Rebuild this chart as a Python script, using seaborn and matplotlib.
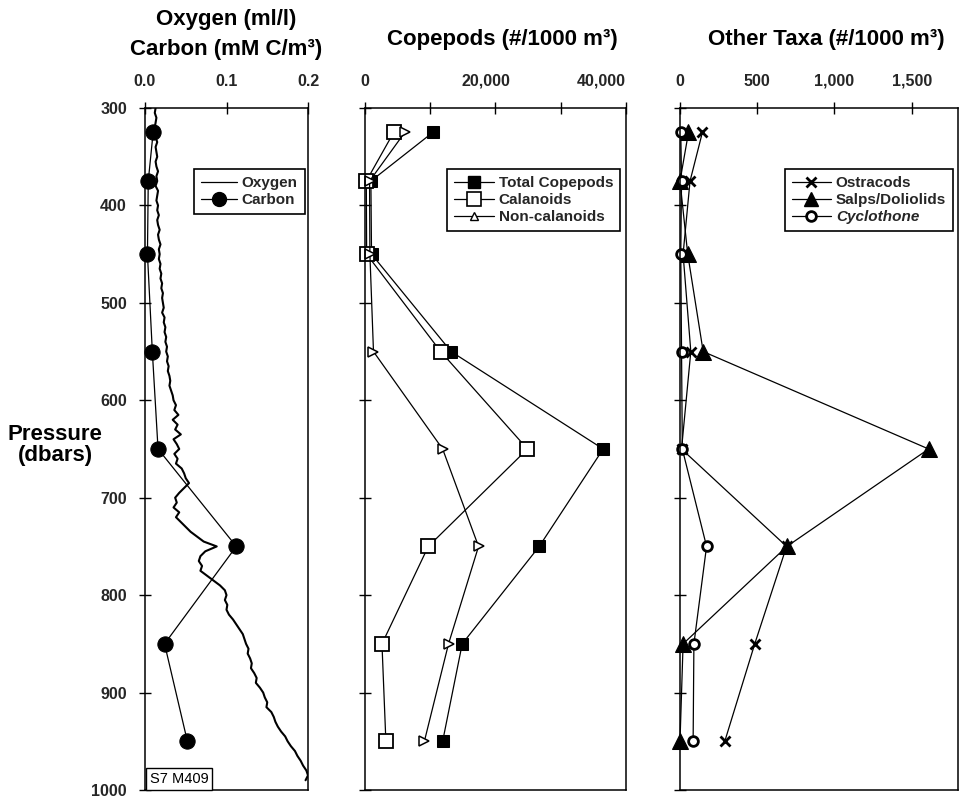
import numpy as np
import pandas as pd
import matplotlib
matplotlib.use("Agg")
import matplotlib.pyplot as plt
import matplotlib.transforms as mtransforms
from matplotlib.lines import Line2D
import seaborn as sns

# ---- net sampling depths (dbar) ----
depth = [325, 375, 450, 550, 650, 750, 850, 950]

# ---- carbon (mM C/m3) at net depths ----
carbon = [0.010, 0.004, 0.003, 0.009, 0.016, 0.112, 0.024, 0.052]

# ---- CTD oxygen profile (ml/l), 5 dbar bins from 300 dbar ----
oxygen = [
    0.013, 0.012, 0.014, 0.013, 0.012, 0.014, 0.013, 0.015, 0.013, 0.014,
    0.015, 0.013, 0.014, 0.016, 0.014, 0.015, 0.013, 0.016, 0.015, 0.014,
    0.016, 0.015, 0.017, 0.015, 0.016, 0.018, 0.016, 0.017, 0.019, 0.017,
    0.018, 0.017, 0.019, 0.018, 0.020, 0.019, 0.021, 0.020, 0.022, 0.021,
    0.022, 0.023, 0.021, 0.024, 0.023, 0.025, 0.024, 0.026, 0.025, 0.027,
    0.026, 0.028, 0.027, 0.029, 0.028, 0.030, 0.031, 0.030, 0.032, 0.034,
    0.035, 0.038, 0.036, 0.041, 0.034, 0.040, 0.037, 0.044, 0.035, 0.039,
    0.042, 0.036, 0.040, 0.038, 0.045, 0.048, 0.050, 0.054, 0.048, 0.042,
    0.037, 0.039, 0.035, 0.042, 0.038, 0.044, 0.050, 0.056, 0.064, 0.072,
    0.088, 0.074, 0.068, 0.066, 0.070, 0.068, 0.076, 0.084, 0.092, 0.098,
    0.100, 0.098, 0.101, 0.100, 0.103, 0.108, 0.112, 0.116, 0.120, 0.122,
    0.124, 0.127, 0.126, 0.129, 0.131, 0.130, 0.134, 0.137, 0.136, 0.141,
    0.145, 0.147, 0.150, 0.149, 0.155, 0.158, 0.160, 0.163, 0.167, 0.172,
    0.175, 0.179, 0.184, 0.187, 0.191, 0.194, 0.198, 0.200, 0.197,
]
oxy_pressure = list(range(300, 300 + 5 * len(oxygen), 5))

# ---- copepods (#/1000 m3) ----
total_copepods = [10400, 900, 1000, 13200, 36500, 26700, 14900, 11900]
calanoids = [4400, 200, 250, 11600, 24900, 9700, 2600, 3200]
non_calanoids = [6100, 700, 750, 1300, 11900, 17400, 12800, 9100]

# ---- other taxa (#/1000 m3) ----
ostracods = [145, 65, 20, 70, 10, 690, 484, 290]
salps = [55, 0, 50, 150, 1610, 692, 20, 0]
cyclothone = [5, 10, 5, 10, 15, 172, 90, 85]

# ---- axis ticks / labels ----
pressure_ticks = [300, 400, 500, 600, 700, 800, 900, 1000]
oc_ticks = [0.0, 0.1, 0.2]
oc_labels = ["0.0", "0.1", "0.2"]
cop_ticks = [0, 10000, 20000, 30000, 40000]
cop_labels = ["0", "", "20,000", "", "40,000"]
taxa_ticks = [0, 500, 1000, 1500]
taxa_labels = ["0", "500", "1,000", "1,500"]

sns.set_theme(style="white")
BOLD = ["Liberation Sans", "DejaVu Sans"]
NARROW = ["Liberation Sans Narrow", "Liberation Sans", "DejaVu Sans"]
plt.rcParams["font.family"] = BOLD

W, H = 964, 799
fig = plt.figure(figsize=(W / 100, H / 100), dpi=100)
fig.patch.set_facecolor("white")


def px_axes(left, right, top, bottom):
    return fig.add_axes([left / W, 1 - bottom / H, (right - left) / W, (bottom - top) / H])


ax1 = px_axes(145, 308, 108, 790)
ax2 = px_axes(365, 626, 108, 790)
ax3 = px_axes(680, 958, 108, 790)

LW = 0.9

# ---- panel 1: oxygen and carbon ----
sns.lineplot(x=oxygen, y=oxy_pressure, ax=ax1, sort=False, estimator=None,
             color="black", lw=1.5, label="Oxygen")
sns.lineplot(x=carbon, y=depth, ax=ax1, sort=False, estimator=None,
             color="black", lw=LW, marker="o", markersize=11,
             markerfacecolor="black", markeredgecolor="black", label="Carbon",
             clip_on=False)

# ---- panel 2: copepods ----
sns.lineplot(x=total_copepods, y=depth, ax=ax2, sort=False, estimator=None,
             color="black", lw=LW, marker="s", markersize=8.5,
             markerfacecolor="black", markeredgecolor="black", clip_on=False)
sns.lineplot(x=calanoids, y=depth, ax=ax2, sort=False, estimator=None,
             color="black", lw=LW, marker="s", markersize=9.5,
             markerfacecolor="white", markeredgecolor="black",
             markeredgewidth=1.3, clip_on=False)
sns.lineplot(x=non_calanoids, y=depth, ax=ax2, sort=False, estimator=None,
             color="black", lw=LW, marker=">", markersize=6.5,
             markerfacecolor="white", markeredgecolor="black",
             markeredgewidth=1.1, clip_on=False)

# ---- panel 3: other taxa ----
sns.lineplot(x=ostracods, y=depth, ax=ax3, sort=False, estimator=None,
             color="black", lw=LW, marker="x", markersize=7,
             markeredgewidth=2.0, markeredgecolor="black", clip_on=False)
sns.lineplot(x=salps, y=depth, ax=ax3, sort=False, estimator=None,
             color="black", lw=LW, marker="^", markersize=11,
             markerfacecolor="black", markeredgecolor="black", clip_on=False)
sns.lineplot(x=cyclothone, y=depth, ax=ax3, sort=False, estimator=None,
             color="black", lw=LW, marker="o", markersize=7,
             markerfacecolor="white", markeredgecolor="black",
             markeredgewidth=2.0, clip_on=False)

tick_font = dict(family=NARROW, weight="bold", size=11.5)

for ax, xmax, xt, xl in [(ax1, 0.2, oc_ticks, oc_labels),
                         (ax2, 40000, cop_ticks, cop_labels),
                         (ax3, 1800, taxa_ticks, taxa_labels)]:
    ax.set_xlim(0, xmax)
    ax.set_ylim(1000, 300)
    ax.set_xlabel("")
    ax.set_ylabel("")
    ax.xaxis.tick_top()
    ax.set_xticks(xt)
    ax.set_xticklabels(xl, fontdict=tick_font)
    ax.set_yticks(pressure_ticks)
    ax.tick_params(axis="x", direction="inout", length=8, width=1.0,
                   color="black", pad=10, top=True, bottom=False)
    ax.tick_params(axis="y", direction="inout", length=8, width=1.0,
                   color="black", pad=9, left=True, right=False)
    for sp in ax.spines.values():
        sp.set_visible(True)
        sp.set_color("black")
        sp.set_linewidth(1.1)
    ax.set_facecolor("white")
    ax.grid(False)

ax1.set_yticklabels([str(v) for v in pressure_ticks], fontdict=tick_font)
ax2.set_yticklabels([])
ax3.set_yticklabels([])

# shift copepod tick labels slightly left, last one ends at the axis edge
lbls = ax2.get_xticklabels()
lbls[2].set_transform(lbls[2].get_transform() +
                      mtransforms.ScaledTranslation(-0.10, 0, fig.dpi_scale_trans))
lbls[4].set_horizontalalignment("right")

# ---- legends ----
leg_font = dict(family=BOLD, weight="bold", size=11)


def boxed_legend(ax, handles, labels, right, hlen=2.6):
    leg = ax.legend(handles, labels, loc="upper right",
                    bbox_to_anchor=(right, 0.91), frameon=True, fancybox=False,
                    edgecolor="black", framealpha=1, borderpad=0.45,
                    handlelength=hlen, handletextpad=0.3, labelspacing=0.2,
                    borderaxespad=0, prop=leg_font)
    leg.get_frame().set_linewidth(1.2)
    return leg


h1 = [Line2D([], [], color="black", lw=LW),
      Line2D([], [], color="black", lw=LW, marker="o", markersize=10,
             markerfacecolor="black", markeredgecolor="black")]
boxed_legend(ax1, h1, ["Oxygen", "Carbon"], 0.98, hlen=2.4)

h2 = [Line2D([], [], color="black", lw=LW, marker="s", markersize=8,
             markerfacecolor="black", markeredgecolor="black"),
      Line2D([], [], color="black", lw=LW, marker="s", markersize=10,
             markerfacecolor="white", markeredgecolor="black", markeredgewidth=1.2),
      Line2D([], [], color="black", lw=LW, marker="^", markersize=6,
             markerfacecolor="white", markeredgecolor="black")]
boxed_legend(ax2, h2, ["Total Copepods", "Calanoids", "Non-calanoids"], 0.977)

h3 = [Line2D([], [], color="black", lw=LW, marker="x", markersize=7,
             markeredgewidth=2, markeredgecolor="black"),
      Line2D([], [], color="black", lw=LW, marker="^", markersize=10,
             markerfacecolor="black", markeredgecolor="black"),
      Line2D([], [], color="black", lw=LW, marker="o", markersize=7,
             markerfacecolor="white", markeredgecolor="black", markeredgewidth=2)]
leg3 = boxed_legend(ax3, h3, ["Ostracods", "Salps/Doliolids", "Cyclothone"], 0.982)
leg3.get_texts()[2].set_fontstyle("italic")

# ---- station tag ----
ax1.text(0.03, 0.006, "S7 M409", transform=ax1.transAxes, ha="left", va="bottom",
         fontsize=10.5, family=BOLD, color="black",
         bbox=dict(boxstyle="square,pad=0.25", facecolor="white",
                   edgecolor="black", linewidth=1.0))

# ---- titles ----
title_font = dict(family=BOLD, weight="bold", size=16, color="black",
                  ha="center", va="center")
fig.text(226 / W, 1 - 20 / H, "Oxygen (ml/l)", **title_font)
fig.text(226 / W, 1 - 49 / H, "Carbon (mM C/m³)", **title_font)
fig.text(502 / W, 1 - 40 / H, "Copepods (#/1000 m³)", **title_font)
fig.text(826 / W, 1 - 40 / H, "Other Taxa (#/1000 m³)", **title_font)
fig.text(55 / W, 1 - 445 / H, "Pressure\n(dbars)", linespacing=1.05, **title_font)

fig.savefig("out.png", dpi=100, facecolor="white")
